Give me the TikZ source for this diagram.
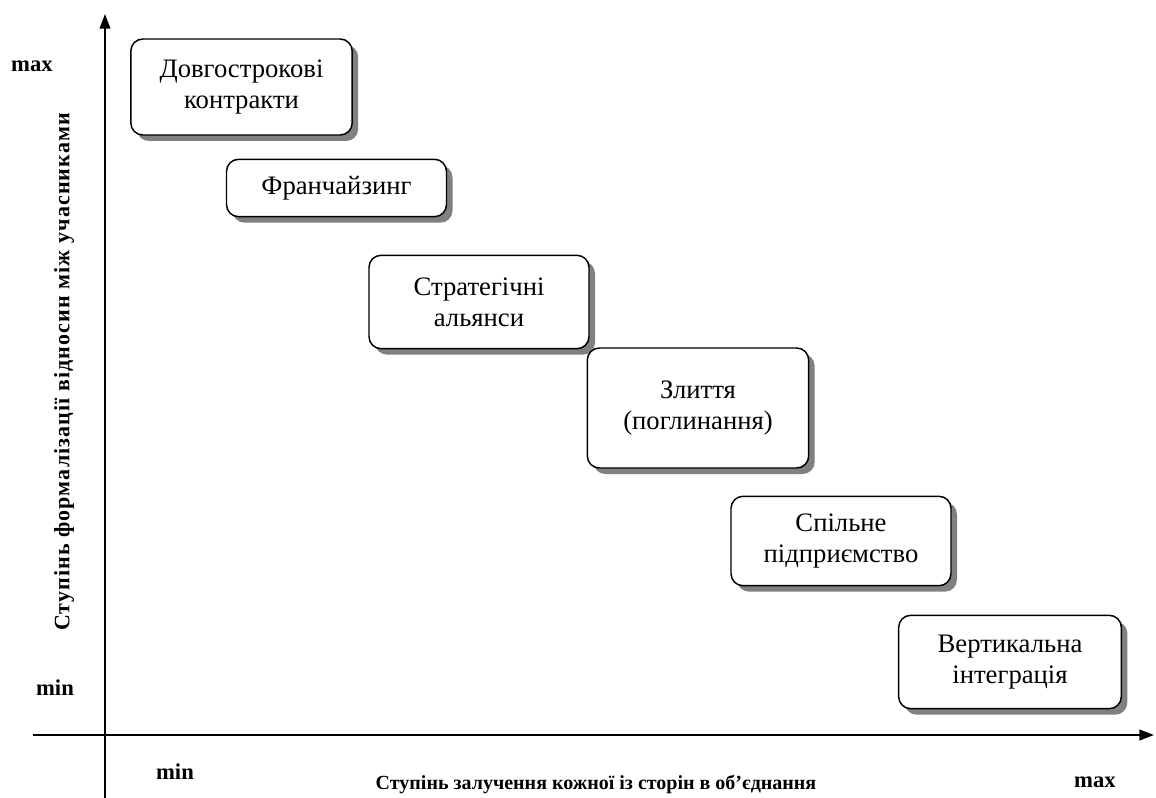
\documentclass[tikz,border=0pt]{standalone}
\usepackage{fontspec}
\setmainfont{Liberation Serif}
\usepackage{tikz}
\usetikzlibrary{arrows.meta,shadows}

\tikzset{
  stage/.style={draw, line width=1.1pt, rounded corners=9pt, fill=white,
    align=center, inner sep=2pt,
    font=\fontsize{20}{23}\selectfont,
    drop shadow={shadow xshift=4.5pt, shadow yshift=-4.5pt, fill=black!50, opacity=1}},
  limit/.style={font=\fontsize{17}{20}\selectfont\bfseries, inner sep=0.75pt},
  axistitle/.style={font=\fontsize{15}{18}\selectfont\bfseries, inner sep=0.75pt},
}

\begin{document}
\begin{tikzpicture}[x=0.75pt,y=0.75pt,yscale=-1,xscale=1]
\useasboundingbox (0,0) rectangle (1156,798);

% axes
\coordinate (ybot) at (105,798);
\coordinate (ytop) at (105,14);
\coordinate (xleft) at (33,735);
\coordinate (xright) at (1154,735);
\draw [line width=1.2pt, -{Triangle[length=11pt,width=8pt]}] (ybot) -- (ytop);
\draw [line width=1.6pt, -{Triangle[length=11pt,width=8pt]}] (xleft) -- (xright);

% stages
\node [stage, minimum width=166pt, minimum height=72pt] (contracts) at (241.5,87) {Довгострокові\\контракти};
\node [stage, minimum width=165pt, minimum height=43pt] (franchise) at (336.5,188) {Франчайзинг};
\node [stage, minimum width=165pt, minimum height=70pt] (alliances) at (479,302) {Стратегічні\\альянси};
\node [stage, minimum width=166pt, minimum height=90pt] (merger) at (698,408) {Злиття\\(поглинання)};
\node [stage, minimum width=165pt, minimum height=67pt] (joint) at (841,541) {Спільне\\підприємство};
\node [stage, minimum width=167pt, minimum height=70pt] (vertical) at (1010,662) {Вертикальна\\інтеграція};

% axis labels
\node [limit] (ymax) at (32,66) {max};
\node [limit] (ymin) at (55,688) {min};
\node [limit] (xmin) at (175,772) {min};
\node [limit] (xmax) at (1095,782) {max};
\node [axistitle, font=\fontsize{16.5}{19}\selectfont\bfseries, rotate=90] (ytitle) at (64,372) {\addfontfeature{LetterSpace=5}Ступінь формалізації відносин між учасниками};
\node [axistitle] (xtitle) at (596,784) {Ступінь залучення кожної із сторін в об’єднання};

\end{tikzpicture}
\end{document}
